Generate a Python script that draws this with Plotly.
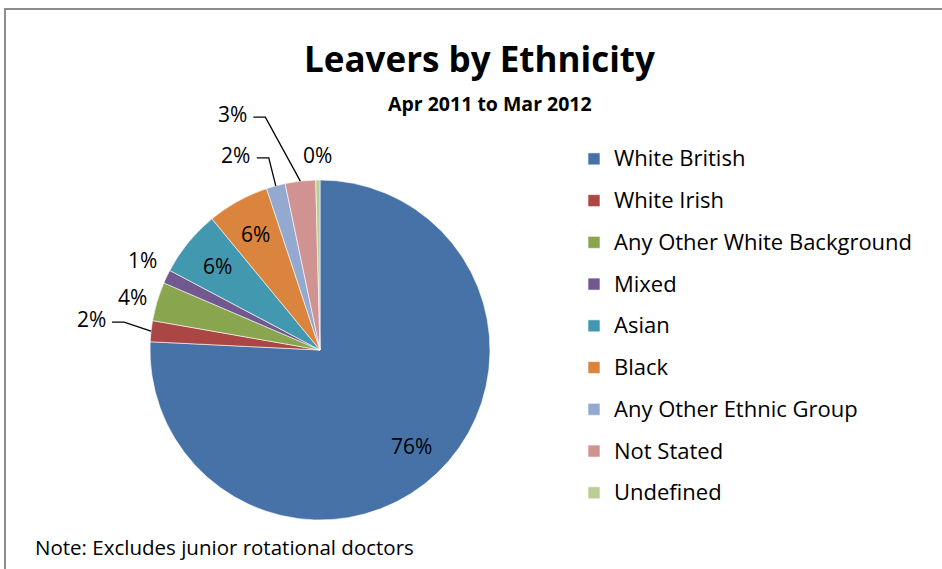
import math
import plotly.graph_objects as go

categories = ["White British", "White Irish", "Any Other White Background", "Mixed",
              "Asian", "Black", "Any Other Ethnic Group", "Not Stated", "Undefined"]
shares = [76.0, 2.0, 3.7, 1.3, 6.3, 5.9, 1.8, 2.9, 0.4]
colors = ["#4672A8", "#AA4643", "#89A54E", "#71588F", "#4198AF",
          "#DB843D", "#93A9CF", "#D19392", "#B9CD96"]
title_text = "Leavers by Ethnicity"
subtitle_text = "Apr 2011 to Mar 2012"
note_text = "Note: Excludes junior rotational doctors"

W, H = 942, 569
CX, CY, R = 320, 350, 170
FONT = "Open Sans"
LBL = 21

inside_cats = {"White British", "Asian", "Black"}
INSIDE_FRAC = 0.78
# offsets (px) of outside label centre from the slice rim midpoint, and whether a leader line is drawn
label_offsets = {
    "White Irish": (-60, -12, True),
    "Any Other White Background": (-25, -4, False),
    "Mixed": (-24, -17, False),
    "Any Other Ethnic Group": (-40, -31, True),
    "Not Stated": (-68, -67, True),
    "Undefined": (0, -25, False),
}

total = sum(shares)
pct = [round(v / total * 100) for v in shares]

fig = go.Figure()
fig.add_trace(go.Pie(
    labels=[f'<span style="font-size:22px;baseline-shift:4px">{c}</span>' for c in categories],
    values=shares,
    sort=False,
    direction="clockwise",
    rotation=0,
    marker=dict(colors=colors, line=dict(color="white", width=0.6)),
    textinfo="none",
    hoverinfo="label+percent",
    domain=dict(x=[(CX - R) / W, (CX + R) / W], y=[1 - (CY + R) / H, 1 - (CY - R) / H]),
    showlegend=True,
))


def px(x, y):
    return x / W, 1 - y / H


annotations = []
shapes = []
cum = 0.0
for cat, v, p in zip(categories, shares, pct):
    mid = cum + v / 2
    cum += v
    ang = mid / total * 2 * math.pi  # clockwise from 12 o'clock
    if cat in inside_cats:
        tx = CX + INSIDE_FRAC * R * math.sin(ang)
        ty = CY - INSIDE_FRAC * R * math.cos(ang)
        leader = False
    else:
        rx = CX + R * math.sin(ang)
        ry = CY - R * math.cos(ang)
        dx, dy, leader = label_offsets[cat]
        tx, ty = rx + dx, ry + dy
    ax_, ay_ = px(tx, ty)
    annotations.append(dict(x=ax_, y=ay_, xref="paper", yref="paper", text=f"{p}%",
                            showarrow=False, xanchor="center", yanchor="middle",
                            font=dict(family=FONT, size=LBL, color="black")))
    if leader:
        sx, sy = tx + 21, ty + 3
        ex = sx + 12
        x0, y0 = px(sx, sy)
        x1, y1 = px(ex, sy)
        x2, y2 = px(rx, ry)
        shapes.append(dict(type="path", xref="paper", yref="paper",
                           path=f"M {x0} {y0} L {x1} {y1} L {x2} {y2}",
                           line=dict(color="black", width=1.3)))

# outer frame
shapes.append(dict(type="rect", xref="paper", yref="paper",
                   x0=5 / W, x1=1.02, y0=-0.02, y1=1 - 9 / H,
                   line=dict(color="#8c8c8c", width=2)))

annotations.append(dict(x=479 / W, y=1 - 58 / H, xref="paper", yref="paper",
                        text=f"<b>{title_text}</b>", showarrow=False,
                        font=dict(family=FONT, size=35, color="black"),
                        xanchor="center", yanchor="middle"))
annotations.append(dict(x=490 / W, y=1 - 103 / H, xref="paper", yref="paper",
                        text=f"<b>{subtitle_text}</b>", showarrow=False,
                        font=dict(family=FONT, size=19.5, color="black"),
                        xanchor="center", yanchor="middle"))
annotations.append(dict(x=33 / W, y=1 - 547 / H, xref="paper", yref="paper",
                        text=note_text, showarrow=False,
                        font=dict(family=FONT, size=20.5, color="black"),
                        xanchor="left", yanchor="middle"))

fig.update_layout(
    width=W, height=H,
    margin=dict(l=0, r=0, t=0, b=0),
    paper_bgcolor="white", plot_bgcolor="white",
    font=dict(family=FONT, color="black"),
    legend=dict(x=574 / W, y=1 - 133 / H, xanchor="left", yanchor="top",
                font=dict(family=FONT, size=29.8, color="black"),
                bgcolor="rgba(0,0,0,0)", traceorder="normal"),
    annotations=annotations,
    shapes=shapes,
)

fig.write_html("out.html", config={"displayModeBar": False},
               post_script="document.body.style.margin='0';")
